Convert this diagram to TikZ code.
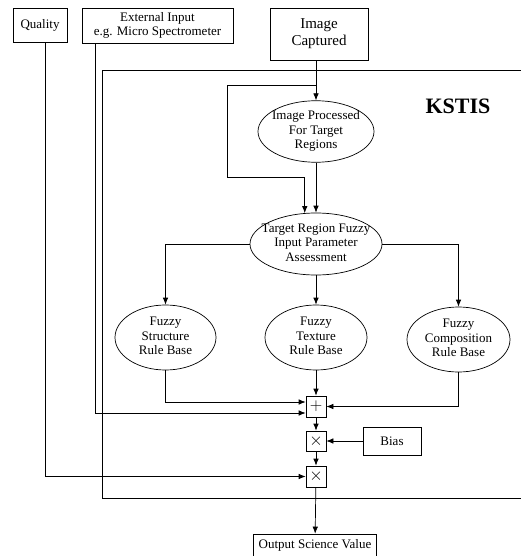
\documentclass[tikz,border=0pt]{standalone}
\usepackage{fontspec}
\setmainfont{Liberation Serif}
\usetikzlibrary{shapes,arrows.meta}

% text lines of an ellipse, kept from widening the shape
\newcommand{\ellipsetext}[1]{\makebox[0pt]{\begin{tabular}{@{}c@{}}#1\end{tabular}}}

\begin{document}
\begin{tikzpicture}[x=1pt, y=-1pt, line width=0.7pt, font=\fontsize{13}{14.5}\selectfont]
	%define block styles
	\tikzset{
		inbox/.style={rectangle, draw=black, inner sep=0pt, align=center},
		rulebase/.style={ellipse, draw=black, inner sep=0pt},
		opbox/.style={rectangle, draw=black, inner sep=0pt, minimum width=20pt, minimum height=21pt, font=\fontsize{17}{17}\selectfont},
		arrow/.style={->, >={Latex[length=7pt, width=5.5pt]}},
	}
	\useasboundingbox (0,0) rectangle (521,556);
	%system frame
	\draw (521,70) -- (102,70) -- (102,498) -- (521,498);
	\node[font=\fontsize{22}{22}\selectfont\bfseries] (kstis) at (458,106) {KSTIS};
	%define nodes
	\node[inbox, minimum width=54pt, minimum height=34pt](quality) at (40,25) {Quality};
	\node[inbox, minimum width=151pt, minimum height=35pt](extin) at (157.5,25.5) {External Input\\e.g. Micro Spectrometer};
	\node[inbox, minimum width=98pt, minimum height=52pt, font=\fontsize{15}{17}\selectfont](captured) at (319,34) {Image\\Captured};
	\node[rulebase, minimum width=116pt, minimum height=57pt](processed) at (316,131.5) {\ellipsetext{Image Processed\\For Target\\Regions}};
	\node[rulebase, minimum width=132pt, minimum height=62pt](assess) at (316,244) {\ellipsetext{Target Region Fuzzy\\Input Parameter\\Assessment}};
	\node[rulebase, minimum width=101pt, minimum height=65pt](structure) at (165.5,337.5) {\ellipsetext{Fuzzy\\Structure\\Rule Base}};
	\node[rulebase, minimum width=102pt, minimum height=65pt](texture) at (316,337.5) {\ellipsetext{Fuzzy\\Texture\\Rule Base}};
	\node[rulebase, minimum width=103pt, minimum height=65pt](composition) at (458.5,339.5) {\ellipsetext{Fuzzy\\Composition\\Rule Base}};
	\node[opbox](sum) at (316,406.5) {$+$};
	\node[opbox, minimum height=20pt](biasmul) at (316,441) {$\times$};
	\node[opbox](qualmul) at (316,476.5) {$\times$};
	\node[inbox, minimum width=58pt, minimum height=28pt](bias) at (392,441) {Bias};
	\node[inbox, minimum width=123pt, minimum height=22pt](output) at (315,545) {Output Science Value};
	\coordinate (split) at (316,85);
	\coordinate (bend) at (227,177);
	%define arrows
	\draw[arrow] (captured.south -| processed.north) -- (processed);
	\draw[arrow] (split) -| (bend) -| (assess.110);
	\draw[arrow] (processed) -- (assess);
	\draw[arrow] (assess.west) -| (structure.north);
	\draw[arrow] (assess) -- (texture);
	\draw[arrow] (assess.east) -| (composition.north);
	\draw[arrow] (structure) |- ([yshift=4.5pt]sum.west);
	\draw[arrow] ([xshift=14pt]extin.south west) |- ([yshift=-6.5pt]sum.west);
	\draw[arrow] (texture) -- (sum);
	\draw[arrow] (composition) |- (sum.east);
	\draw[arrow] (sum) -- (biasmul);
	\draw[arrow] (bias) -- (biasmul);
	\draw[arrow] (biasmul) -- (qualmul);
	\draw[arrow] ([xshift=5pt]quality.south) |- (qualmul.west);
	\draw[arrow] (qualmul) -- (output);
\end{tikzpicture}
\end{document}
